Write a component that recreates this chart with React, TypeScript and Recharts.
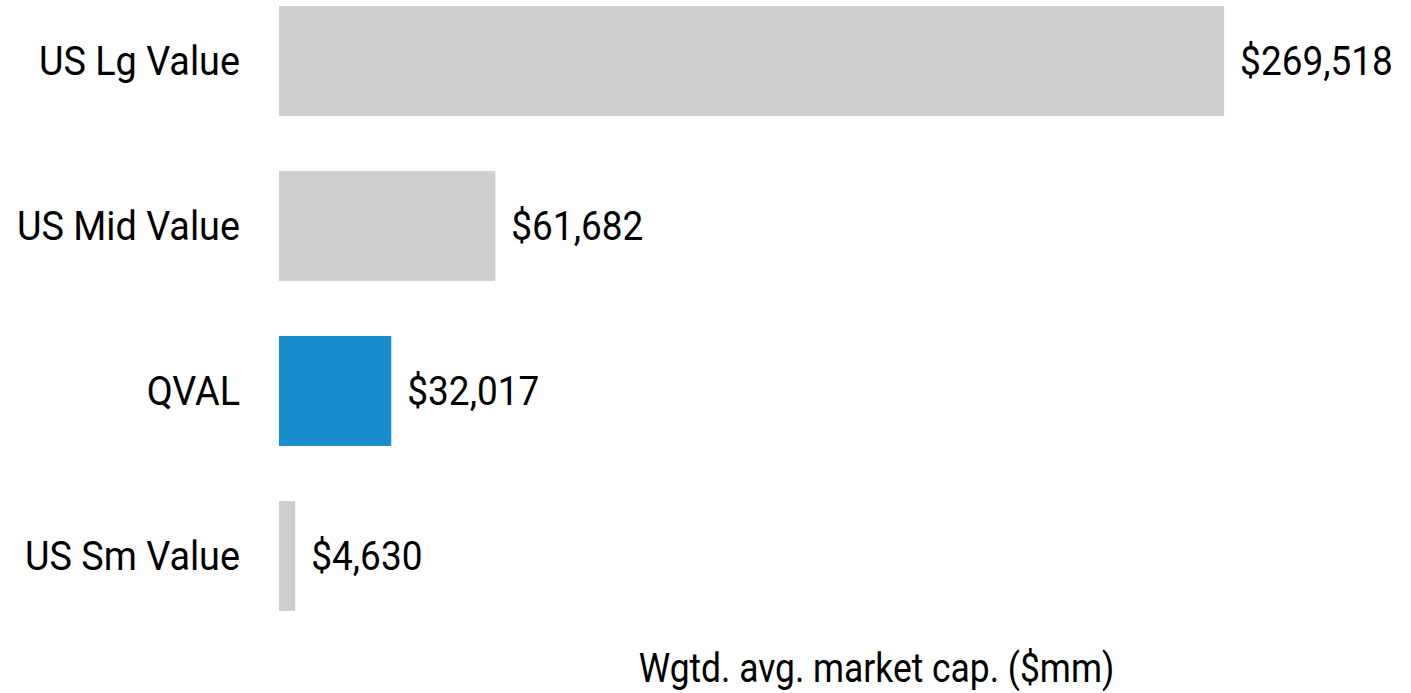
import React from "react";
import { BarChart, Bar, XAxis, YAxis, Cell, LabelList } from "recharts";

const categories = ["US Lg Value", "US Mid Value", "QVAL", "US Sm Value"];
const values = [269518, 61682, 32017, 4630];
const highlight = ["QVAL"];
const axisTitle = "Wgtd. avg. market cap. ($mm)";

const data = categories.map((c, i) => ({ name: c, value: values[i] }));

const FONT = "Roboto, 'Noto Sans', sans-serif";

const fmt = (v: number) => "$" + v.toLocaleString("en-US");

const YTick = (props: any) => {
  const { y, payload } = props;
  return (
    <text
      transform={`translate(240, ${y}) scale(0.945,1)`}
      x={0}
      y={0}
      dy="0.355em"
      textAnchor="end"
      fontFamily={FONT}
      fontSize={40}
      fill="#000"
    >
      {payload.value}
    </text>
  );
};

const ValueLabel = (props: any) => {
  const { x, y, width, height, value } = props;
  const lx = Number(x) + Number(width) + 16;
  const ly = Number(y) + Number(height) / 2;
  return (
    <text
      transform={`translate(${lx}, ${ly}) scale(0.925,1)`}
      x={0}
      y={0}
      dy="0.355em"
      textAnchor="start"
      fontFamily={FONT}
      fontSize={40}
      fill="#000"
    >
      {fmt(Number(value))}
    </text>
  );
};

const AxisTitle = () => {
  return (
    <text
      transform={`translate(876.5, 703.5) scale(0.885,1)`}
      x={0}
      y={0}
      textAnchor="middle"
      fontFamily={FONT}
      fontSize={40}
      fill="#000"
    >
      {axisTitle}
    </text>
  );
};

export default function App() {
  return (
    <div style={{ position: "absolute", left: 0, top: -22.5 }}>
      <BarChart
        width={1411}
        height={715.5}
        data={data}
        layout="vertical"
        margin={{ top: 0, right: 80, bottom: 0, left: 0 }}
        barCategoryGap={55}
      >
        <XAxis
          type="number"
          domain={[0, 300000]}
          tick={false}
          axisLine={false}
          tickLine={false}
          height={55.5}
          label={{ content: AxisTitle }}
        />
        <YAxis
          type="category"
          dataKey="name"
          width={279}
          axisLine={false}
          tickLine={false}
          tick={YTick}
          interval={0}
        />
        <Bar dataKey="value" barSize={110} isAnimationActive={false}>
          {data.map((d) => (
            <Cell
              key={d.name}
              fill={highlight.includes(d.name) ? "#1B8DCC" : "#D0CECF"}
            />
          ))}
          <LabelList dataKey="value" content={ValueLabel} />
        </Bar>
      </BarChart>
    </div>
  );
}
